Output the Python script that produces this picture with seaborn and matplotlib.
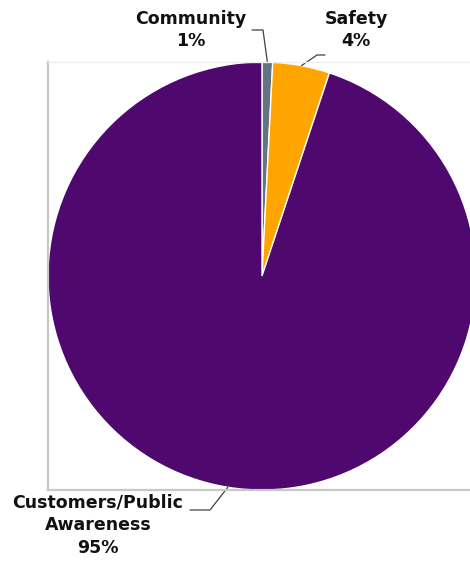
import matplotlib
matplotlib.use("Agg")
import matplotlib.pyplot as plt
import seaborn as sns
import numpy as np

categories = ["Community", "Safety", "Customers/Public\nAwareness"]
values = [0.8, 4.3, 94.9]
pct_labels = ["1%", "4%", "95%"]
colors = ["#637381", "#FFA500", "#4E086E"]

sns.set_theme(style="white")
plt.rcParams['font.family'] = ['DejaVu Sans']

W, H = 470, 563
fig = plt.figure(figsize=(W / 100, H / 100), dpi=100)
# plot area in pixels: left 48, top 62, size 428 x 428
ax = fig.add_axes([48 / W, (H - 490) / H, 428 / W, 428 / H])
ax.pie(values, colors=sns.color_palette(colors), startangle=90, counterclock=False,
       radius=1.0, wedgeprops=dict(edgecolor="white", linewidth=1.0))
ax.set_xlim(-1, 1)
ax.set_ylim(-1, 1)
ax.set_aspect("equal")
ax.set_frame_on(True)
ax.set_xticks([])
ax.set_yticks([])
for s in ["left", "bottom"]:
    ax.spines[s].set_visible(True)
    ax.spines[s].set_color("#C8C8C8")
    ax.spines[s].set_linewidth(1.6)
ax.spines["top"].set_visible(True)
ax.spines["top"].set_color("#EEEEEE")
ax.spines["top"].set_linewidth(1.0)
ax.spines["right"].set_visible(False)

def px(x, y):
    return ((x - 262) / 214, (276 - y) / 214)

# mid angles of wedges
cum = np.cumsum([0] + values)
mids = [90 - (cum[i] + values[i] / 2) / 100 * 360 for i in range(len(values))]
anchors = [(np.cos(np.radians(a)), np.sin(np.radians(a))) for a in mids]

lc = "#404040"
tc = "#111111"
fs = 12.5
# Community
e1 = px(263, 30); h1 = px(252, 30)
ax.plot([anchors[0][0], e1[0], h1[0]], [anchors[0][1], e1[1], h1[1]], color=lc, lw=0.9, clip_on=False)
ax.text(*px(191, 30), f"{categories[0]}\n{pct_labels[0]}", ha="center", va="center",
        fontsize=fs, fontweight="bold", color=tc, linespacing=1.35)
# Safety
e2 = px(317, 55); h2 = px(325, 55)
ax.plot([anchors[1][0], e2[0], h2[0]], [anchors[1][1], e2[1], h2[1]], color=lc, lw=0.9, clip_on=False)
ax.text(*px(356, 30), f"{categories[1]}\n{pct_labels[1]}", ha="center", va="center",
        fontsize=fs, fontweight="bold", color=tc, linespacing=1.35)
# Customers
e3 = px(210, 510); h3 = px(190, 510)
ax.plot([anchors[2][0], e3[0], h3[0]], [anchors[2][1], e3[1], h3[1]], color=lc, lw=0.9, clip_on=False)
ax.text(*px(98, 525), f"{categories[2]}\n{pct_labels[2]}", ha="center", va="center",
        fontsize=fs, fontweight="bold", color=tc, linespacing=1.35)

fig.savefig("out.png", dpi=100)
